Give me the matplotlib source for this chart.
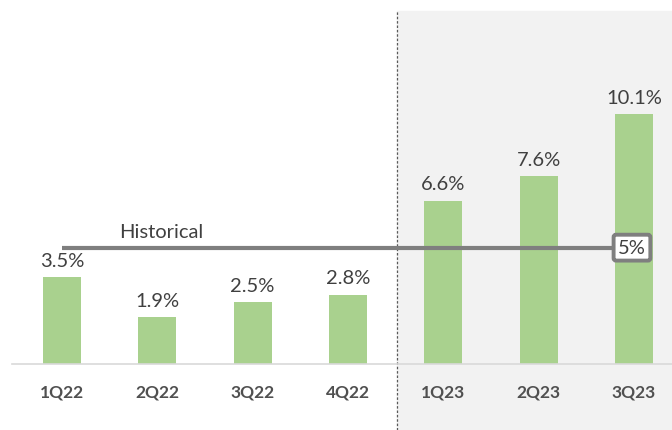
import matplotlib.pyplot as plt

quarters = ['1Q22', '2Q22', '3Q22', '4Q22', '1Q23', '2Q23', '3Q23']
values = [3.5, 1.9, 2.5, 2.8, 6.6, 7.6, 10.1]
hist_level = 4.7
hist_label = '5%'

GREEN = '#a9d18e'
GREY = '#7f7f7f'
TEXT = '#404040'

plt.rcParams['font.family'] = ['Lato', 'DejaVu Sans']

fig = plt.figure(figsize=(6.72, 4.31), dpi=100)
ax = fig.add_axes([12 / 672, 66 / 431, 660 / 672, 353 / 431])

x = list(range(len(quarters)))
ax.set_xlim(-0.525, 6.40)
ax.set_ylim(0, 14.26)

# shaded forecast region, extends below axis to the figure bottom
ax.axvspan(3.515, 6.40, ymin=-66 / 353, ymax=1, color='#f2f2f2', zorder=0, clip_on=False)
ax.axvline(3.515, ymin=-66 / 353, ymax=1, color='#595959', lw=0.9, ls=(0, (2, 1.5)), clip_on=False, zorder=1)

ax.bar(x, values, 0.4, color=GREEN, zorder=2)

for xi, v in zip(x, values):
    ax.annotate(f'{v}%', (xi, v), xytext=(0, 6), textcoords='offset points',
                ha='center', va='bottom', fontsize=14.5, color=TEXT)

# historical average line
ax.plot([0, 5.96], [hist_level, hist_level], color=GREY, lw=3, solid_capstyle='butt', zorder=3)
ax.text(5.98, hist_level, hist_label, ha='center', va='center', fontsize=14.5, color=TEXT, zorder=4,
        bbox=dict(boxstyle='round,pad=0.22,rounding_size=0.12', fc='white', ec=GREY, lw=2.8))
ax.text(1.04, hist_level + 0.3, 'Historical', ha='center', va='bottom', fontsize=14.5, color=TEXT)

for spine in ax.spines.values():
    if spine.spine_type != 'bottom':
        spine.set_visible(False)
ax.spines['bottom'].set_color('#d9d9d9')
ax.spines['bottom'].set_linewidth(1.2)

ax.set_xticks(x, quarters, fontsize=12.5, fontweight='bold', color='#505050')
ax.tick_params(axis='x', length=0, pad=14)
ax.set_yticks([])
ax.patch.set_visible(False)

fig.savefig('out.png', dpi=100)
